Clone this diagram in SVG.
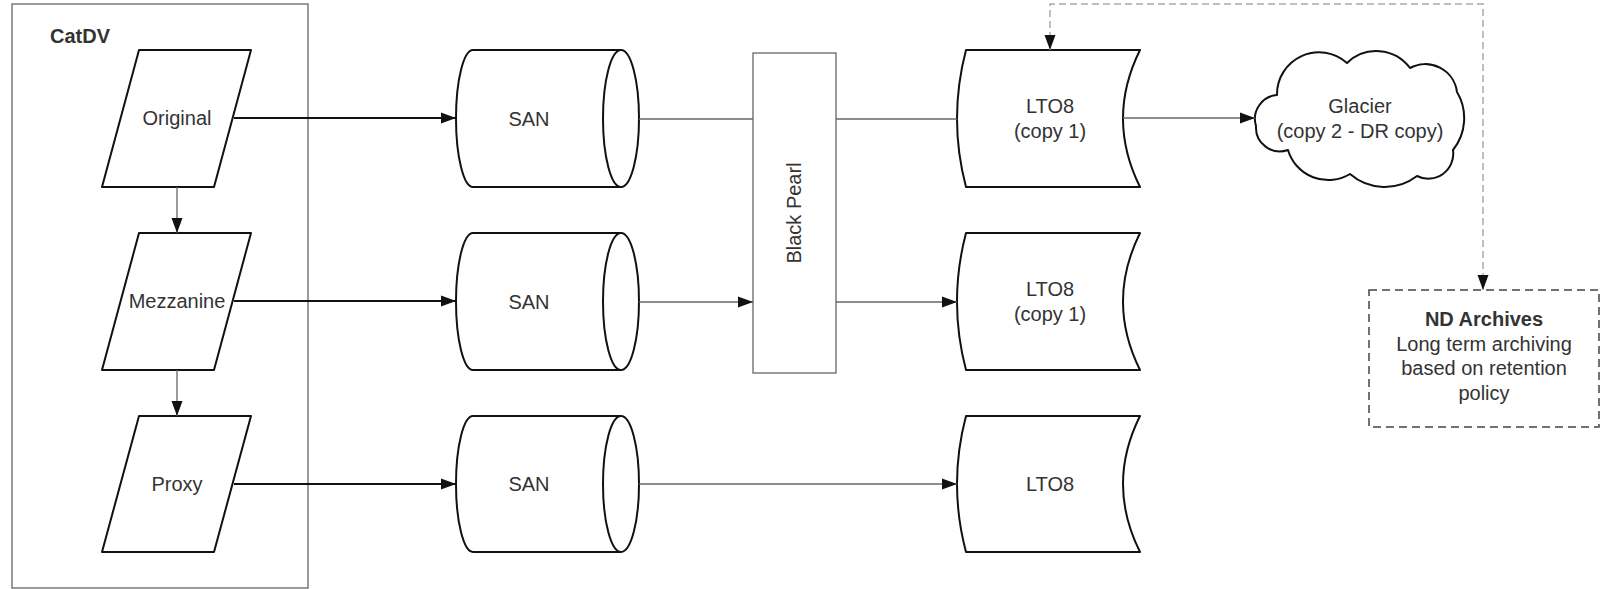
<svg xmlns="http://www.w3.org/2000/svg" width="1606" height="589" viewBox="0 0 1606 589">
<defs>
<style>
text{font-family:"Liberation Sans",Arial,sans-serif;font-size:20px;fill:#333;}
.b{font-weight:bold;}
.m{text-anchor:middle;}
.shape{fill:#fff;stroke:#111;stroke-width:2;stroke-linejoin:round;}
.thinbox{fill:#fff;stroke:#666;stroke-width:1.3;}
.thick{fill:none;stroke:#111;stroke-width:2;}
.thin{fill:none;stroke:#666;stroke-width:1.3;}
.dash{fill:none;stroke:#aaa;stroke-width:1.5;stroke-dasharray:7 4;}
.dbox{fill:#fff;stroke:#444;stroke-width:1.5;stroke-dasharray:8 5;}
</style>
<marker id="ah" markerUnits="userSpaceOnUse" markerWidth="16" markerHeight="12" refX="15" refY="6" orient="auto-start-reverse">
<path d="M0,0.5 L15,6 L0,11.5 z" fill="#111"/>
</marker>
</defs>
<g id="catdv">
<rect class="thinbox" x="12" y="4" width="296" height="584"/>
<text class="b" x="50" y="43">CatDV</text>
</g>
<g id="original">
<path class="shape" d="M139,50 L251,50 L214,187 L102,187 Z"/>
<text class="m" x="177" y="125">Original</text>
</g>
<g id="mezzanine">
<path class="shape" d="M139,233 L251,233 L214,370 L102,370 Z"/>
<text class="m" x="177" y="308">Mezzanine</text>
</g>
<g id="proxy">
<path class="shape" d="M139,416 L251,416 L214,552 L102,552 Z"/>
<text class="m" x="177" y="491">Proxy</text>
</g>
<g id="san1">
<path class="shape" d="M473,50 L621,50 A18,68.5 0 0 1 621,187 L473,187 A17,68.5 0 0 1 473,50 Z"/>
<path class="thick" d="M621,50 A18,68.5 0 0 0 621,187"/>
<text class="m" x="529" y="125.5">SAN</text>
</g>
<g id="san2">
<path class="shape" d="M473,233 L621,233 A18,68.5 0 0 1 621,370 L473,370 A17,68.5 0 0 1 473,233 Z"/>
<path class="thick" d="M621,233 A18,68.5 0 0 0 621,370"/>
<text class="m" x="529" y="308.5">SAN</text>
</g>
<g id="san3">
<path class="shape" d="M473,416 L621,416 A18,68 0 0 1 621,552 L473,552 A17,68 0 0 1 473,416 Z"/>
<path class="thick" d="M621,416 A18,68 0 0 0 621,552"/>
<text class="m" x="529" y="491">SAN</text>
</g>
<g id="blackpearl">
<rect class="thinbox" x="753" y="53" width="83" height="320"/>
<text class="m" transform="translate(801,213) rotate(-90)" x="0" y="0">Black Pearl</text>
</g>
<g id="lto8-1">
<path class="shape" d="M966,50 L1140,50 Q1106,118.5 1140,187 L966,187 Q948,118.5 966,50 Z"/>
<text class="m" x="1050" y="113">LTO8</text>
<text class="m" x="1050" y="138">(copy 1)</text>
</g>
<g id="lto8-2">
<path class="shape" d="M966,233 L1140,233 Q1106,301.5 1140,370 L966,370 Q948,301.5 966,233 Z"/>
<text class="m" x="1050" y="296">LTO8</text>
<text class="m" x="1050" y="321">(copy 1)</text>
</g>
<g id="lto8-3">
<path class="shape" d="M966,416 L1140,416 Q1106,484 1140,552 L966,552 Q948,484 966,416 Z"/>
<text class="m" x="1050" y="491">LTO8</text>
</g>
<g id="glacier">
<path class="shape" d="M1277,95 A42,42 0 0 1 1347,63 A42,42 0 0 1 1410,68 A32,32 0 0 1 1457,92 A51,51 0 0 1 1453,150 A25,25 0 0 1 1417,176 A53,53 0 0 1 1350,174 A42,42 0 0 1 1288,150 A24,24 0 0 1 1256,126 A24,24 0 0 1 1277,95 Z"/>
<text class="m" x="1360" y="113">Glacier</text>
<text class="m" x="1360" y="138">(copy 2 - DR copy)</text>
</g>
<g id="ndarchives">
<rect class="dbox" x="1369" y="290" width="230" height="137"/>
<text class="m b" x="1484" y="326">ND Archives</text>
<text class="m" x="1484" y="350.5">Long term archiving</text>
<text class="m" x="1484" y="375">based on retention</text>
<text class="m" x="1484" y="399.5">policy</text>
</g>
<g id="connectors">
<path class="thin" d="M177,187 L177,233" marker-end="url(#ah)"/>
<path class="thin" d="M177,370 L177,416" marker-end="url(#ah)"/>
<path class="thick" d="M234,118 L456,118" marker-end="url(#ah)"/>
<path class="thick" d="M234,301 L456,301" marker-end="url(#ah)"/>
<path class="thick" d="M234,484 L456,484" marker-end="url(#ah)"/>
<path class="thin" d="M639,119 L753,119"/>
<path class="thin" d="M836,119 L957,119"/>
<path class="thin" d="M639,302 L753,302" marker-end="url(#ah)"/>
<path class="thin" d="M836,302 L957,302" marker-end="url(#ah)"/>
<path class="thin" d="M639,484 L957,484" marker-end="url(#ah)"/>
<path class="thin" d="M1123,118 L1255,118" marker-end="url(#ah)"/>
<path class="dash" d="M1050,50 L1050,4 L1483,4 L1483,290" marker-start="url(#ah)" marker-end="url(#ah)"/>
</g>
</svg>
